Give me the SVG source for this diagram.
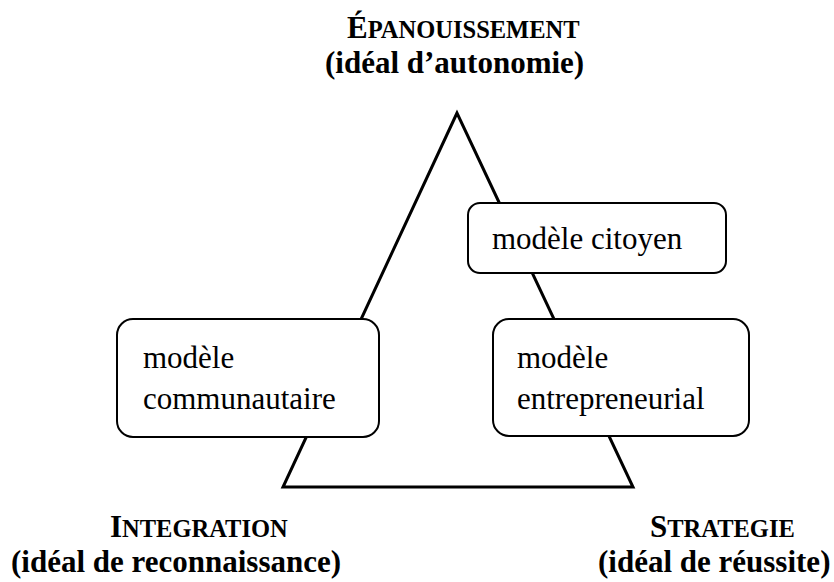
<svg xmlns="http://www.w3.org/2000/svg" width="834" height="582" viewBox="0 0 834 582">
<style>
.lbl{font-family:"Liberation Serif","Times New Roman",serif;font-weight:bold;font-size:31px;fill:#000}
.sc{font-size:24.5px}
.box{fill:#fff;stroke:#000;stroke-width:2}
.txt{font-family:"Liberation Serif","Times New Roman",serif;font-size:31px;fill:#000}
.edge{fill:none;stroke:#000;stroke-width:3;stroke-linejoin:miter}
</style>
<rect width="834" height="582" fill="#fff"/>
<g id="connectors">
<polygon class="edge" points="457,113 283,487 633,487"/>
</g>
<g id="top-label">
<text class="lbl" x="347" y="38">É<tspan class="sc">PANOUISSEMENT</tspan></text>
<text class="lbl" x="325" y="73">(idéal d’autonomie)</text>
</g>
<g id="left-label">
<text class="lbl" x="110" y="537">I<tspan class="sc">NTEGRATION</tspan></text>
<text class="lbl" x="11" y="572">(idéal de reconnaissance)</text>
</g>
<g id="right-label">
<text class="lbl" x="650" y="537">S<tspan class="sc">TRATEGIE</tspan></text>
<text class="lbl" x="598" y="572">(idéal de réussite)</text>
</g>
<g id="citoyen">
<rect class="box" x="468" y="203" width="258" height="70" rx="12"/>
<text class="txt" x="492" y="249">modèle citoyen</text>
</g>
<g id="communautaire">
<rect class="box" x="117" y="319" width="262" height="118" rx="16"/>
<text class="txt" x="143" y="368">modèle</text>
<text class="txt" x="143" y="409">communautaire</text>
</g>
<g id="entrepreneurial">
<rect class="box" x="493" y="319" width="256" height="117" rx="16"/>
<text class="txt" x="517" y="368">modèle</text>
<text class="txt" x="517" y="409">entrepreneurial</text>
</g>
</svg>
